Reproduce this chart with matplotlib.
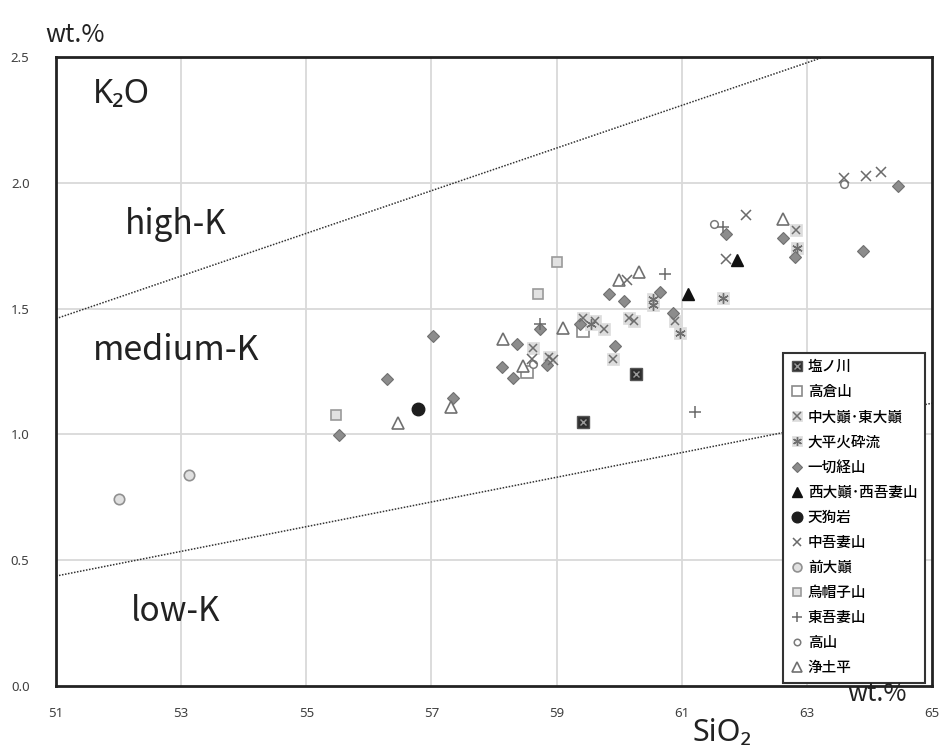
import matplotlib
matplotlib.use("Agg")
import matplotlib.pyplot as plt

plt.rcParams['font.family'] = ['Noto Sans CJK JP', 'DejaVu Sans']

# ---------------- data (SiO2, K2O wt.%) ----------------
shionokawa_x = [59.42, 60.27]
shionokawa_y = [1.048, 1.242]

takakura_x = [58.53, 59.43]
takakura_y = [1.25, 1.41]

nakadaiten_x = [59.43, 59.61, 59.75, 59.90, 58.63, 58.88, 60.15, 60.23, 60.90, 62.83]
nakadaiten_y = [1.462, 1.45, 1.417, 1.30, 1.345, 1.306, 1.462, 1.45, 1.45, 1.813]

ohira_x = [59.55, 60.54, 60.54, 61.66, 62.84, 60.97]
ohira_y = [1.44, 1.54, 1.516, 1.544, 1.74, 1.405]

issaikyo_x = [55.52, 56.29, 57.02, 57.34, 58.12, 58.30, 58.37, 58.74, 58.84, 59.38,
              59.84, 60.08, 59.94, 60.66, 60.86, 61.71, 62.62, 62.81, 64.45, 63.89]
issaikyo_y = [0.996, 1.222, 1.393, 1.143, 1.266, 1.226, 1.361, 1.417, 1.274, 1.44,
              1.56, 1.532, 1.353, 1.567, 1.484, 1.798, 1.782, 1.706, 1.988, 1.730]

nishidaiten_x = [61.88, 61.10]
nishidaiten_y = [1.694, 1.560]

tenguiwa_x = [56.78]
tenguiwa_y = [1.099]

nakaazuma_x = [62.03, 61.71, 63.94, 64.18, 63.59, 60.12, 58.61, 58.94]
nakaazuma_y = [1.873, 1.698, 2.028, 2.044, 2.020, 1.615, 1.30, 1.294]

maedaiten_x = [52.0, 53.13]
maedaiten_y = [0.742, 0.837]

eboshi_x = [55.47, 59.01, 58.70]
eboshi_y = [1.079, 1.687, 1.560]

higashiazuma_x = [60.74, 61.21, 58.74, 61.66]
higashiazuma_y = [1.639, 1.091, 1.44, 1.825]

takayama_x = [61.52, 63.60, 58.62]
takayama_y = [1.837, 1.996, 1.28]

jododaira_x = [56.47, 57.31, 58.15, 58.46, 59.11, 60.00, 60.32, 62.62]
jododaira_y = [1.044, 1.107, 1.381, 1.270, 1.421, 1.615, 1.647, 1.857]

# boundary lines
highk_x = [51.0, 63.27]
highk_y = [1.46, 2.50]
lowk_x = [51.0, 65.0]
lowk_y = [0.437, 1.124]

x_ticks = [51, 53, 55, 57, 59, 61, 63, 65]
y_ticks = [0.0, 0.5, 1.0, 1.5, 2.0, 2.5]
y_ticklabels = ['0.0', '0.5', '1.0', '1.5', '2.0', '2.5']

# ---------------- figure ----------------
fig = plt.figure(figsize=(9.46, 7.51), dpi=100)
ax = fig.add_axes([56/946, 1-686/751, 876/946, 629/751])
ax.set_xlim(51, 65)
ax.set_ylim(0, 2.5)

for v in [53, 55, 57, 59, 61, 63]:
    ax.axvline(v, color='#d9d9d9', lw=1.3, zorder=0)
for v in [0.5, 1.0, 1.5, 2.0]:
    ax.axhline(v, color='#d9d9d9', lw=1.3, zorder=0)

ax.plot(highk_x, highk_y, color='#333333', ls=(0, (1, 1)), lw=1.1, zorder=1)
ax.plot(lowk_x, lowk_y, color='#333333', ls=(0, (1, 1)), lw=1.1, zorder=1)

handles = []
labels = []

def add(hs, label):
    handles.append(tuple(hs) if len(hs) > 1 else hs[0])
    labels.append(label)

a = ax.plot(shionokawa_x, shionokawa_y, ls='none', marker='s', ms=8, mfc='#2e2e2e', mec='#555555', mew=1, zorder=3)[0]
b = ax.plot(shionokawa_x, shionokawa_y, ls='none', marker='x', ms=4.5, mec='#9a9a9a', mew=1, zorder=4)[0]
add([a, b], '塩ノ川')
a = ax.plot(takakura_x, takakura_y, ls='none', marker='s', ms=8, mfc='white', mec='#8a8a8a', mew=1.2, zorder=3)[0]
add([a], '高倉山')
a = ax.plot(nakadaiten_x, nakadaiten_y, ls='none', marker='s', ms=8, mfc='#dcdcdc', mec='#dcdcdc', mew=0.5, zorder=3)[0]
b = ax.plot(nakadaiten_x, nakadaiten_y, ls='none', marker='x', ms=6, mec='#6e6e6e', mew=1.1, zorder=4)[0]
add([a, b], '中大巓･東大巓')
a = ax.plot(ohira_x, ohira_y, ls='none', marker='s', ms=8, mfc='#dcdcdc', mec='#dcdcdc', mew=0.5, zorder=3)[0]
b = ax.plot(ohira_x, ohira_y, ls='none', marker=(6, 2, 0), ms=7.5, mec='#6e6e6e', mew=1.0, zorder=4)[0]
add([a, b], '大平火砕流')
a = ax.plot(issaikyo_x, issaikyo_y, ls='none', marker='D', ms=6.5, mfc='#8c8c8c', mec='#707070', mew=0.8, zorder=3)[0]
add([a], '一切経山')
a = ax.plot(nishidaiten_x, nishidaiten_y, ls='none', marker='^', ms=8, mfc='#111111', mec='#111111', zorder=3)[0]
add([a], '西大巓･西吾妻山')
a = ax.plot(tenguiwa_x, tenguiwa_y, ls='none', marker='o', ms=9, mfc='#1e1e1e', mec='#1e1e1e', zorder=3)[0]
add([a], '天狗岩')
a = ax.plot(nakaazuma_x, nakaazuma_y, ls='none', marker='x', ms=7, mec='#6a6a6a', mew=1.1, zorder=4)[0]
add([a], '中吾妻山')
a = ax.plot(maedaiten_x, maedaiten_y, ls='none', marker='o', ms=7.5, mfc='#e0e0e0', mec='#909090', mew=1.2, zorder=3)[0]
add([a], '前大巓')
a = ax.plot(eboshi_x, eboshi_y, ls='none', marker='s', ms=7, mfc='#e2e2e2', mec='#9a9a9a', mew=1.2, zorder=3)[0]
add([a], '烏帽子山')
a = ax.plot(higashiazuma_x, higashiazuma_y, ls='none', marker='+', ms=8, mec='#6a6a6a', mew=1.1, zorder=4)[0]
add([a], '東吾妻山')
a = ax.plot(takayama_x, takayama_y, ls='none', marker='o', ms=5.5, mfc='white', mec='#7a7a7a', mew=1.1, zorder=3)[0]
add([a], '高山')
a = ax.plot(jododaira_x, jododaira_y, ls='none', marker='^', ms=9, mfc='white', mec='#707070', mew=1.2, zorder=3)[0]
add([a], '浄土平')

leg = ax.legend(handles, labels, loc='upper left', bbox_to_anchor=((783-56)/876, (686-353)/629),
                borderaxespad=0, frameon=True, fancybox=False, framealpha=1,
                edgecolor='#333333', handlelength=0.9, handletextpad=0.3,
                labelspacing=0.76, borderpad=0.5, markerscale=0.85,
                prop={'family': ['Noto Sans CJK JP', 'DejaVu Sans'], 'size': 10.5, 'weight': 'medium'})
leg.get_frame().set_linewidth(1.5)
leg.set_zorder(10)

for s in ax.spines.values():
    s.set_linewidth(2)
    s.set_color('#222222')
ax.set_xticks(x_ticks)
ax.set_xticklabels([str(t) for t in x_ticks])
ax.set_yticks(y_ticks)
ax.set_yticklabels(y_ticklabels)
ax.tick_params(axis='both', length=0, labelsize=9.5, labelcolor='#404040')
ax.tick_params(axis='x', pad=15)
ax.tick_params(axis='y', pad=19)
for lbl in ax.get_xticklabels() + ax.get_yticklabels():
    lbl.set_family(['Noto Sans', 'DejaVu Sans'])

tf = ['Noto Sans CJK JP', 'DejaVu Sans']
ax.text(0.075, 0.94, 'K₂O', transform=ax.transAxes, fontsize=23.5, ha='center', va='center', color='#222222',
        family=['Noto Sans', 'DejaVu Sans'])
ax.text(0.137, 0.733, 'high-K', transform=ax.transAxes, fontsize=24, ha='center', va='center', color='#222222', family=tf)
ax.text(0.137, 0.534, 'medium-K', transform=ax.transAxes, fontsize=24.5, ha='center', va='center', color='#222222', family=tf)
ax.text(0.137, 0.118, 'low-K', transform=ax.transAxes, fontsize=24, ha='center', va='center', color='#222222', family=tf)
ax.text(0.760, -0.075, 'SiO₂', transform=ax.transAxes, fontsize=22, ha='center', va='center', color='#222222',
        family=['Noto Sans', 'DejaVu Sans'], clip_on=False)
ax.text(0.022, 1.035, 'wt.%', transform=ax.transAxes, fontsize=18, ha='center', va='center', color='#222222', family=tf,
        clip_on=False)
ax.text(0.937, -0.013, 'wt.%', transform=ax.transAxes, fontsize=18, ha='center', va='center', color='#222222', family=tf,
        clip_on=False, zorder=11)

fig.savefig('out.png', dpi=100)
